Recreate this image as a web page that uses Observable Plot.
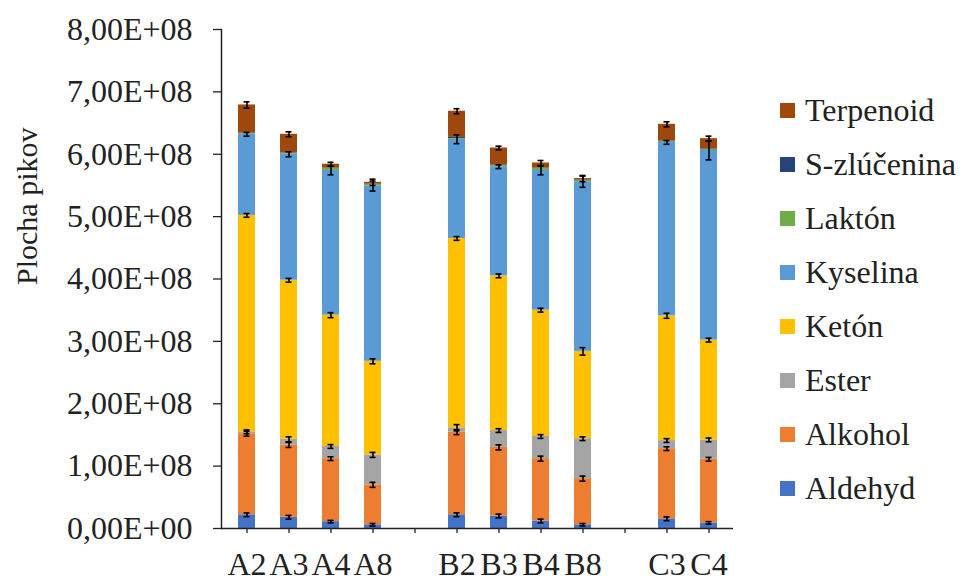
<!DOCTYPE html>
<html>
<head>
<meta charset="utf-8">
<script src="https://cdn.jsdelivr.net/npm/d3@7"></script>
<script src="https://cdn.jsdelivr.net/npm/@observablehq/plot@0.6"></script>
<style>
  html, body { margin: 0; padding: 0; background: #fff; }
  #wrap { position: relative; width: 966px; height: 581px; overflow: hidden; }
  #wrap svg, #wrap svg text { font-family: "Liberation Serif", "Times New Roman", "DejaVu Serif", serif !important; }
  #legend { position: absolute; left: 780px; top: 0; font-family: "Liberation Serif", "Times New Roman", "DejaVu Serif", serif; font-size: 32px; color: #222; }
  .item { position: absolute; left: 0; display: flex; align-items: center; white-space: nowrap; height: 40px; }
  .sw { width: 15px; height: 15px; margin-right: 10px; }
</style>
</head>
<body>
<div id="wrap"><div id="legend"></div></div>
<script>
// Categories (blank slots are the gaps between groups)
const categories = ["A2", "A3", "A4", "A8", " ", "B2", "B3", "B4", "B8", "  ", "C3", "C4"];
const samples = ["A2", "A3", "A4", "A8", "B2", "B3", "B4", "B8", "C3", "C4"];

// Series (stack order bottom -> top)
const seriesNames = ["Aldehyd", "Alkohol", "Ester", "Ketón", "Kyselina", "Laktón", "S-zlúčenina", "Terpenoid"];
const seriesColors = ["#4472C4", "#ED7D31", "#A5A5A5", "#FFC000", "#5B9BD5", "#70AD47", "#264478", "#9E480E"];

// Peak areas per sample (A2 A3 A4 A8 B2 B3 B4 B8 C3 C4)
const aldehyd     = [22e6, 18e6, 11e6, 6e6, 22e6, 20e6, 12e6, 6e6, 15.5e6, 9e6];
const alkohol     = [130e6, 116e6, 101e6, 64e6, 132.5e6, 110e6, 100e6, 74e6, 112.5e6, 102e6];
const ester       = [3e6, 9e6, 19.5e6, 48e6, 7e6, 27e6, 35.5e6, 64e6, 13e6, 31e6];
const keton       = [347e6, 255e6, 210.5e6, 150e6, 303.5e6, 248e6, 202.5e6, 140e6, 200e6, 160e6];
const kyselina    = [130e6, 202e6, 232e6, 281e6, 159e6, 175e6, 224e6, 272e6, 278e6, 304e6];
const lakton      = [1e6, 1e6, 3e6, 2e6, 1e6, 2e6, 3e6, 2e6, 1e6, 2e6];
const szlucenina  = [1e6, 1e6, 1e6, 1e6, 2e6, 1e6, 1e6, 1e6, 1e6, 1e6];
const terpenoid   = [45e6, 30e6, 6e6, 3e6, 42e6, 27e6, 8e6, 2e6, 27e6, 16e6];

// Error bar half-lengths
const errAldehyd   = [3e6, 3e6, 2e6, 2e6, 3e6, 3e6, 3e6, 2e6, 3e6, 2e6];
const errAlkohol   = [4e6, 4e6, 3e6, 4e6, 4e6, 4e6, 4e6, 4e6, 3e6, 3e6];
const errEster     = [3e6, 4e6, 3e6, 4e6, 5e6, 3e6, 3e6, 3e6, 3e6, 3e6];
const errKeton     = [3e6, 3e6, 4e6, 4e6, 3e6, 3e6, 3e6, 6e6, 4e6, 3e6];
const errKyselina  = [3e6, 4e6, 7e6, 8e6, 7e6, 3e6, 7e6, 9e6, 3e6, 15e6];
const errLakton    = [0, 0, 0, 0, 0, 0, 0, 0, 0, 0];
const errSzluc     = [0, 0, 0, 0, 0, 0, 0, 0, 0, 0];
const errTerpenoid = [5e6, 4e6, 3e6, 5e6, 4e6, 3e6, 4e6, 5e6, 4e6, 4e6];

// Axis ticks
const yTicks = [0, 1e8, 2e8, 3e8, 4e8, 5e8, 6e8, 7e8, 8e8];
const yTickLabels = ["0,00E+00", "1,00E+08", "2,00E+08", "3,00E+08", "4,00E+08", "5,00E+08", "6,00E+08", "7,00E+08", "8,00E+08"];
const yTitle = "Plocha pikov";

const seriesValues = [aldehyd, alkohol, ester, keton, kyselina, lakton, szlucenina, terpenoid];
const seriesErrors = [errAldehyd, errAlkohol, errEster, errKeton, errKyselina, errLakton, errSzluc, errTerpenoid];

const data = [];
const errs = [];
samples.forEach((s, i) => {
  let cum = 0;
  seriesNames.forEach((name, k) => {
    const v = seriesValues[k][i];
    data.push({cat: s, series: name, value: v});
    cum += v;
    if (seriesErrors[k][i] > 0) errs.push({cat: s, top: cum, err: seriesErrors[k][i]});
  });
});

const ink = "#222";
const serif = "'Liberation Serif', 'Times New Roman', 'DejaVu Serif', serif";
const chart = Plot.plot({
  width: 966,
  height: 581,
  marginLeft: 221,
  marginRight: 233,
  marginTop: 29,
  marginBottom: 53,
  style: {fontFamily: serif, fontSize: "32px", color: ink, background: "transparent"},
  x: {domain: categories, paddingInner: 0.6, paddingOuter: 0.3, label: null},
  y: {domain: [0, 8e8], label: null},
  color: {domain: seriesNames, range: seriesColors},
  marks: [
    Plot.barY(data, {x: "cat", y: "value", fill: "series", order: seriesNames, inset: 0}),
    Plot.ruleX(errs, {x: "cat", y1: d => d.top - d.err, y2: d => d.top + d.err, stroke: "#000", strokeWidth: 1.6}),
    Plot.tickY(errs, {x: "cat", y: d => d.top + d.err, insetLeft: 5.5, insetRight: 5.5, stroke: "#000", strokeWidth: 1.6}),
    Plot.tickY(errs, {x: "cat", y: d => d.top - d.err, insetLeft: 5.5, insetRight: 5.5, stroke: "#000", strokeWidth: 1.6}),
    Plot.axisY({ticks: yTicks, tickFormat: d => yTickLabels[yTicks.indexOf(d)], tickSize: 8, tickPadding: 21, label: null, stroke: ink, strokeWidth: 1.3, fill: ink, fontFamily: serif}),
    Plot.axisX({tickSize: 5, tickPadding: 19, label: null, stroke: ink, strokeWidth: 1.3, fill: ink, fontFamily: serif}),
    Plot.frame({anchor: "left", stroke: ink, strokeWidth: 1.5}),
    Plot.ruleY([0], {stroke: ink, strokeWidth: 1.5}),
    Plot.text([yTitle], {frameAnchor: "left", rotate: -90, dx: -194, dy: 6, fontSize: 30, fill: ink, fontFamily: serif})
  ]
});
document.getElementById("wrap").prepend(chart);

// Legend (reverse order, top = Terpenoid)
const legend = document.getElementById("legend");
const legendCenter0 = 110, legendStep = 54.1;
seriesNames.slice().reverse().forEach((name, j) => {
  const k = seriesNames.indexOf(name);
  const item = document.createElement("div");
  item.className = "item";
  item.style.top = (legendCenter0 + j * legendStep - 20) + "px";
  const sw = document.createElement("div");
  sw.className = "sw";
  sw.style.background = seriesColors[k];
  const tx = document.createElement("span");
  tx.textContent = name;
  item.appendChild(sw);
  item.appendChild(tx);
  legend.appendChild(item);
});
</script>
</body>
</html>
